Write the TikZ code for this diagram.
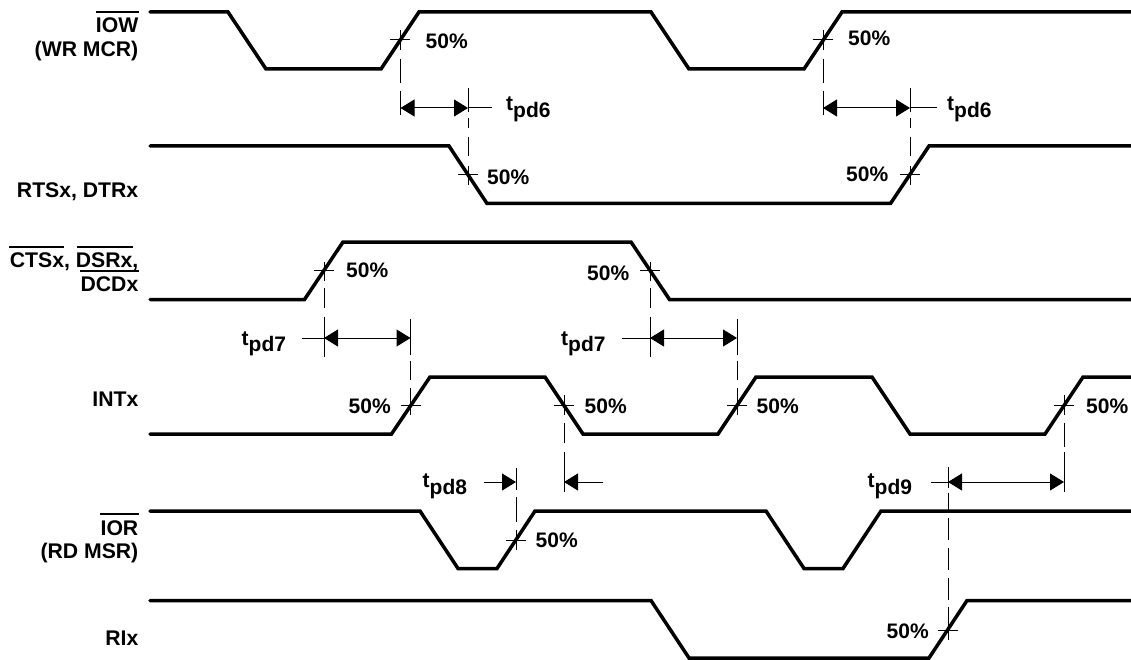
\documentclass[tikz,border=0pt]{standalone}
\usepackage{fontspec}
\setmainfont{Liberation Sans}
\usetikzlibrary{arrows.meta}
\tikzset{
  sig/.style={line width=3.5pt,line cap=round,line join=miter},
  hair/.style={line width=1pt},
  meas/.style={line width=1pt,{Triangle[length=14pt,width=17pt]}-{Triangle[length=14pt,width=17pt]}},
  measr/.style={line width=1pt,-{Triangle[length=14pt,width=17pt]}},
  lab/.style={font=\fontsize{21}{23}\selectfont\bfseries,inner sep=0pt,anchor=base west},
  signame/.style={font=\fontsize{21.2}{23}\selectfont\bfseries,inner sep=0pt,anchor=base east},
  obar/.style={line width=2.2pt}
}
\newcommand{\tpd}[1]{t\raisebox{-6.7pt}{pd#1}}
\newcommand{\crossmark}[2]{\draw[hair] (#1-10,#2)--(#1+10,#2);}
\newcommand{\dashvert}[2]{\foreach \a/\b in {#2}{\draw[hair] (#1,\a)--(#1,\b);}}
\begin{document}
\begin{tikzpicture}[x=1pt,y=-1pt]
\useasboundingbox (0,0) rectangle (1131,660);
% signals
\draw[sig] (150,12)--(228,12)--(266,69)--(381,69)--(419,12)--(651,12)--(689,69)--(804,69)--(842,12)--(1131,12);
\draw[sig] (150,146)--(449,146)--(487,203.5)--(890.5,203.5)--(929,146)--(1131,146);
\draw[sig] (150,299.5)--(304.5,299.5)--(343,242)--(631,242)--(669.5,299.5)--(1131,299.5);
\draw[sig] (150,434)--(391.5,434)--(430,377)--(545,377)--(583,434)--(718,434)--(756,377)--(872,377)--(910,434)--(1045,434)--(1083,377)--(1131,377);
\draw[sig] (150,511)--(420,511)--(458,568.5)--(497,568.5)--(535,511)--(766,511)--(804,568.5)--(843,568.5)--(881,511)--(1131,511);
\draw[sig] (150,600.5)--(651,600.5)--(689,658)--(929,658)--(967,600.5)--(1131,600.5);
% signal names
\node[signame] (n1) at (138.5,33) {IOW};
\node[signame] (n2) at (138.5,57) {(WR MCR)};
\node[signame] (n3) at (138.5,198) {RTSx, DTRx};
\node[signame] (n4) at (138.5,267) {CTSx, DSRx,};
\node[signame] (n5) at (138.5,291) {DCDx};
\node[signame] (n6) at (138.5,406) {INTx};
\node[signame] (n7) at (138.5,535) {IOR};
\node[signame] (n8) at (138.5,558) {(RD MSR)};
\node[signame] (n9) at (138.5,645.5) {RIx};
\draw[obar] (96,12)--(138.5,12);
\draw[obar] (9,247)--(64,247);
\draw[obar] (76.5,247)--(133,247);
\draw[obar] (80,271)--(138.5,271);
\draw[obar] (100,514)--(138.5,514);
% crosses
\crossmark{400}{40}\crossmark{823}{40}
\crossmark{468}{175}\crossmark{910}{175}
\crossmark{324}{270}\crossmark{650}{270}
\crossmark{411}{405}\crossmark{564}{405}\crossmark{737}{405}\crossmark{1064}{405}
\crossmark{516}{540}\crossmark{948}{630}
% dashed verticals
\dashvert{400.5}{30/50,59/83,91/115}
\dashvert{823}{30/50,59/83,91/115}
\dashvert{468}{88/112,118/128,137/156,166/185}
\dashvert{910}{88/112,118/128,137/156,166/185}
\dashvert{324}{262/281,288/308,317/357}
\dashvert{650}{262/281,288/308,317/357}
\dashvert{410.5}{319/355,361/380,388/415}
\dashvert{737}{319/355,361/380,388/415}
\dashvert{564}{395/415,423/443,452/473,473/492}
\dashvert{1064}{395/415,423/447,452/473,473/492}
\dashvert{516}{468/490,497/522,530/550}
\dashvert{948}{467/488,493/512,518/540,548/570,578/600,607/640}
% measures
\draw[meas] (400.5,108)--(468,108);
\draw[hair] (468,108)--(492,108);
\draw[meas] (823,108)--(910,108);
\draw[hair] (910,108)--(937,108);
\draw[hair] (302,338)--(324,338);
\draw[meas] (324,338)--(410.5,338);
\draw[hair] (622,338)--(650,338);
\draw[meas] (650,338)--(737,338);
\draw[measr] (484,482)--(516,482);
\draw[measr] (603,482)--(564,482);
\draw[hair] (931,482)--(948,482);
\draw[meas] (948,482)--(1064,482);
% 50% labels
\node[lab] (p1) at (425.5,49) {50\%};
\node[lab] (p2) at (848,46) {50\%};
\node[lab] (p3) at (487,185) {50\%};
\node[lab] (p4) at (846,182) {50\%};
\node[lab] (p5) at (346,277) {50\%};
\node[lab] (p6) at (587,280) {50\%};
\node[lab] (p7) at (348.5,413) {50\%};
\node[lab] (p8) at (584.5,413) {50\%};
\node[lab] (p9) at (756.5,413) {50\%};
\node[lab] (p10) at (1086,413) {50\%};
\node[lab] (p11) at (535.5,547.5) {50\%};
\node[lab] (p12) at (886.5,638) {50\%};
% delays
\node[lab] (t1) at (506,111) {\tpd{6}};
\node[lab] (t2) at (947,111) {\tpd{6}};
\node[lab] (t3) at (241.5,345) {\tpd{7}};
\node[lab] (t4) at (561,345) {\tpd{7}};
\node[lab] (t5) at (422.5,487.5) {\tpd{8}};
\node[lab] (t6) at (867.5,487.5) {\tpd{9}};
\end{tikzpicture}
\end{document}
